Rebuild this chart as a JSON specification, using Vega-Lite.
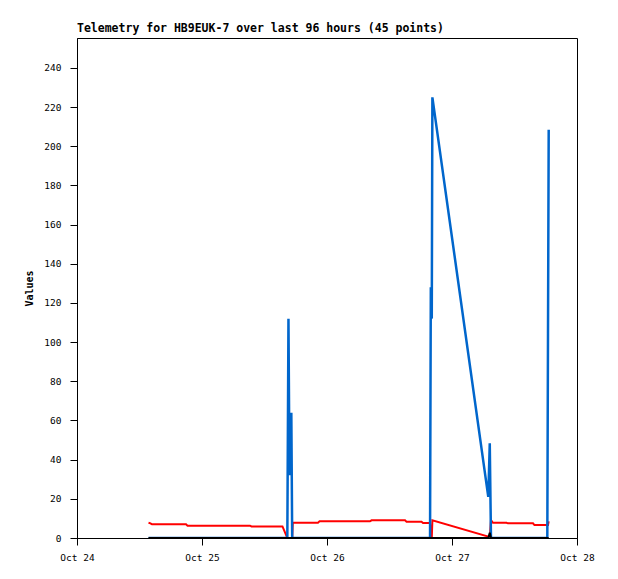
{
  "$schema": "https://vega.github.io/schema/vega-lite/v6.json",
  "width": 500,
  "height": 500,
  "autosize": {"type": "none"},
  "padding": {"left": 77, "top": 38, "right": 41, "bottom": 41},
  "background": "white",
  "config": {
    "view": {"stroke": "black", "strokeWidth": 1},
    "font": "DejaVu Sans Mono",
    "axis": {"grid": false, "domainColor": "black", "tickColor": "black", "labelColor": "black", "titleColor": "black", "labelFont": "DejaVu Sans Mono", "labelFontSize": 9.5, "titleFont": "DejaVu Sans Mono", "tickSize": 7}
  },
  "title": {"text": "Telemetry for HB9EUK-7 over last 96 hours (45 points)", "anchor": "start", "frame": "group", "font": "DejaVu Sans Mono", "fontSize": 11.5, "fontWeight": "bold", "color": "black", "offset": 4},
  "data": {"values": [
    {"t": "2024-10-24T13:44:00", "r": 7.8, "b": 0, "k": 0},
    {"t": "2024-10-24T14:07:00", "r": 7.5, "b": 0, "k": 0},
    {"t": "2024-10-24T14:24:00", "r": 7.0, "b": 0, "k": 0},
    {"t": "2024-10-24T15:56:00", "r": 7.0, "b": 0, "k": 0},
    {"t": "2024-10-24T17:51:00", "r": 7.0, "b": 0, "k": 0},
    {"t": "2024-10-24T20:56:00", "r": 7.0, "b": 0, "k": 0},
    {"t": "2024-10-24T21:13:00", "r": 6.3, "b": 0, "k": 0},
    {"t": "2024-10-25T03:27:00", "r": 6.3, "b": 0, "k": 0},
    {"t": "2024-10-25T09:13:00", "r": 6.3, "b": 0, "k": 0},
    {"t": "2024-10-25T09:30:00", "r": 5.9, "b": 0, "k": 0},
    {"t": "2024-10-25T12:06:00", "r": 5.9, "b": 0, "k": 0},
    {"t": "2024-10-25T15:27:00", "r": 5.9, "b": 0, "k": 0},
    {"t": "2024-10-25T16:23:00", "r": 0, "b": 0, "k": 0},
    {"t": "2024-10-25T16:36:00", "r": 0, "b": 112, "k": 0},
    {"t": "2024-10-25T16:48:00", "r": 0, "b": 32, "k": 0},
    {"t": "2024-10-25T17:09:00", "r": 0, "b": 64, "k": 0},
    {"t": "2024-10-25T17:19:00", "r": 0, "b": 0, "k": 0},
    {"t": "2024-10-25T17:26:00", "r": 7.8, "b": 0, "k": 0},
    {"t": "2024-10-25T22:16:00", "r": 7.8, "b": 0, "k": 0},
    {"t": "2024-10-25T22:34:00", "r": 8.5, "b": 0, "k": 0},
    {"t": "2024-10-26T03:27:00", "r": 8.5, "b": 0, "k": 0},
    {"t": "2024-10-26T08:15:00", "r": 8.5, "b": 0, "k": 0},
    {"t": "2024-10-26T08:33:00", "r": 9.0, "b": 0, "k": 0},
    {"t": "2024-10-26T12:06:00", "r": 9.0, "b": 0, "k": 0},
    {"t": "2024-10-26T14:59:00", "r": 9.0, "b": 0, "k": 0},
    {"t": "2024-10-26T15:16:00", "r": 8.3, "b": 0, "k": 0},
    {"t": "2024-10-26T18:09:00", "r": 8.3, "b": 0, "k": 0},
    {"t": "2024-10-26T18:26:00", "r": 7.7, "b": 0, "k": 0},
    {"t": "2024-10-26T19:47:00", "r": 7.7, "b": 0, "k": 0},
    {"t": "2024-10-26T19:56:00", "r": 0, "b": 128, "k": 0},
    {"t": "2024-10-26T20:07:00", "r": 0, "b": 112, "k": 0},
    {"t": "2024-10-26T20:14:00", "r": 9.0, "b": 225, "k": 0},
    {"t": "2024-10-27T06:58:00", "r": 0.7, "b": 21, "k": 0},
    {"t": "2024-10-27T07:15:00", "r": 0, "b": 48.4, "k": 2.7},
    {"t": "2024-10-27T07:29:00", "r": 9.2, "b": 0, "k": 0},
    {"t": "2024-10-27T07:52:00", "r": 7.8, "b": 0, "k": 0},
    {"t": "2024-10-27T10:28:00", "r": 7.8, "b": 0, "k": 0},
    {"t": "2024-10-27T10:45:00", "r": 7.5, "b": 0, "k": 0},
    {"t": "2024-10-27T13:03:00", "r": 7.5, "b": 0, "k": 0},
    {"t": "2024-10-27T15:33:00", "r": 7.5, "b": 0, "k": 0},
    {"t": "2024-10-27T15:50:00", "r": 6.6, "b": 0, "k": 0},
    {"t": "2024-10-27T18:09:00", "r": 6.6, "b": 0, "k": 0},
    {"t": "2024-10-27T18:18:00", "r": 6.6, "b": 0, "k": 0},
    {"t": "2024-10-27T18:26:00", "r": 6.6, "b": 104.5, "k": 0},
    {"t": "2024-10-27T18:34:00", "r": 8.5, "b": 208.4, "k": 0}
  ]},
  "encoding": {
    "x": {
      "field": "t", "type": "temporal",
      "scale": {"domain": [{"year": 2024, "month": 10, "date": 24}, {"year": 2024, "month": 10, "date": 28}], "nice": false},
      "axis": {"title": null, "format": "%b %d", "labelPadding": 7, "values": [{"year": 2024, "month": 10, "date": 24}, {"year": 2024, "month": 10, "date": 25}, {"year": 2024, "month": 10, "date": 26}, {"year": 2024, "month": 10, "date": 27}, {"year": 2024, "month": 10, "date": 28}], "labelFlush": false, "labelOverlap": false}
    }
  },
  "layer": [
    {
      "mark": {"type": "line", "color": "#ff0000", "strokeWidth": 2, "clip": true},
      "encoding": {
        "y": {"field": "r", "type": "quantitative", "scale": {"domain": [0, 255.3], "nice": false, "zero": true},
          "axis": {"title": "Values", "titleFontSize": 10, "titleFontWeight": "bold", "titlePadding": 9, "values": [0, 20, 40, 60, 80, 100, 120, 140, 160, 180, 200, 220, 240], "labelPadding": 9}}
      }
    },
    {
      "mark": {"type": "line", "color": "#0066cc", "strokeWidth": 2.5, "clip": true},
      "encoding": {"y": {"field": "b", "type": "quantitative"}}
    },
    {
      "mark": {"type": "line", "color": "#000000", "strokeWidth": 2, "clip": true},
      "encoding": {"y": {"field": "k", "type": "quantitative"}}
    }
  ]
}
